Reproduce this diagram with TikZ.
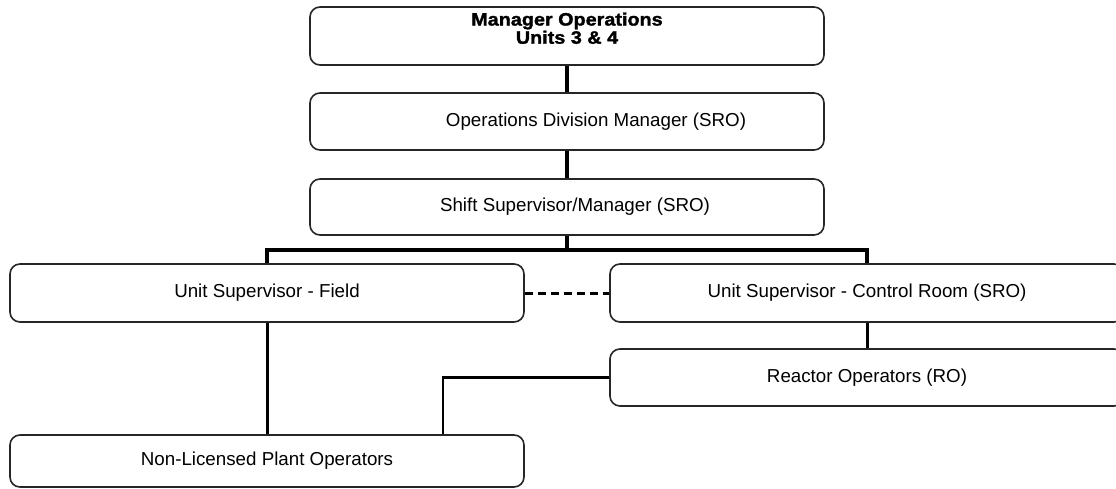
\documentclass[tikz,border=0pt]{standalone}
\usepackage{fontspec}
\setmainfont{Liberation Sans}
\newfontfamily\heavyfont{Liberation Sans Bold}[FakeBold=1.6,FakeStretch=1.1]
\begin{document}
\begin{tikzpicture}[x=1pt,y=-1pt,
  box/.style={draw=black!85, line width=1.6pt, rounded corners=10pt, minimum width=514pt, inner sep=0pt, font=\fontsize{18.75}{20}\selectfont},
  thickline/.style={line width=3.8pt},
  midline/.style={line width=3pt},
  thinline/.style={line width=2.6pt}]
\clip (0,0) rectangle (1116,489);
\useasboundingbox (0,0) rectangle (1116,489);
\node[box, minimum height=58pt, font=\fontsize{18}{17}\heavyfont] (top) at (567,36) {\raisebox{1pt}[0pt][0pt]{\begin{tabular}{@{}c@{}}Manager Operations\\Units 3 \& 4\end{tabular}}};
\node[box, minimum height=57pt] (odm) at (567,121.5) {\hspace*{58pt}Operations Division Manager (SRO)};
\node[box, minimum height=56pt] (ssm) at (567,207) {\hspace*{16pt}Shift Supervisor/Manager (SRO)};
\node[box, minimum height=58pt] (usf) at (267,293) {Unit Supervisor - Field};
\node[box, minimum height=58pt] (uscr) at (867,293) {Unit Supervisor - Control Room (SRO)};
\node[box, minimum height=57pt] (ro) at (867,377.5) {Reactor Operators (RO)};
\node[box, minimum height=52pt] (nlpo) at (267,461) {Non-Licensed Plant Operators};
\coordinate (bar) at (567,250);
\draw[thickline] (top.south) -- (odm.north);
\draw[thickline] (odm.south) -- (ssm.north);
\draw[thickline] (ssm.south) -- (bar);
\draw[thickline] (usf.north) |- (bar) -| (uscr.north);
\draw[midline] (usf.south) -- (nlpo.north);
\draw[midline] (uscr.south) -- (ro.north);
\draw[thinline] (ro.west) -| ([xshift=176pt]nlpo.north);
\draw[midline, dash pattern=on 8pt off 5pt] (usf.east) -- (uscr.west);
\end{tikzpicture}
\end{document}
